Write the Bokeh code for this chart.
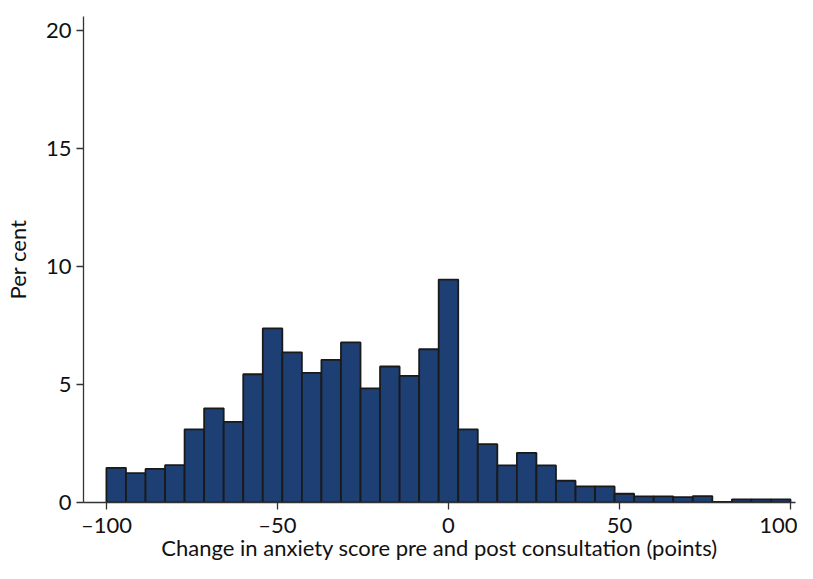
import numpy as np
from bokeh.plotting import figure
from bokeh.models import Range1d, FixedTicker, ColumnDataSource
from bokeh.embed import file_html
from bokeh.resources import INLINE

# Histogram: 35 equal-width bins from -100 to 100
bin_min = -100
bin_max = 100
n_bins = 35
percent = [1.47, 1.24, 1.42, 1.58, 3.10, 3.99, 3.41, 5.43, 7.37, 6.36,
           5.49, 6.04, 6.78, 4.83, 5.76, 5.36, 6.49, 9.44, 3.10, 2.47,
           1.57, 2.10, 1.57, 0.92, 0.68, 0.68, 0.37, 0.26, 0.26, 0.23,
           0.27, 0.03, 0.13, 0.13, 0.13]
x_ticks = [-100, -50, 0, 50, 100]
x_tick_labels = {-100: "\u2013100", -50: "\u201350", 0: "0", 50: "50", 100: "100"}
y_ticks = [0, 5, 10, 15, 20]

edges = np.linspace(bin_min, bin_max, n_bins + 1)
src = ColumnDataSource(dict(left=edges[:-1], right=edges[1:], top=percent,
                            bottom=[0] * n_bins))

FONT = "Lato"
p = figure(width=797, height=563, output_backend="svg", toolbar_location=None,
           x_range=Range1d(-106.7, 101.46), y_range=Range1d(0, 20.58),
           min_border_left=83, min_border_right=2, min_border_top=16,
           min_border_bottom=58)
p.outline_line_color = None
p.grid.grid_line_color = None
p.background_fill_color = "white"
p.border_fill_color = "white"

p.quad(left="left", right="right", top="top", bottom="bottom", source=src,
       fill_color="#1e3f73", line_color="#1a1a1a", line_width=1.8)

for ax in (p.xaxis[0], p.yaxis[0]):
    ax.axis_line_color = "#333333"
    ax.axis_line_width = 1.3
    ax.major_tick_line_color = "#333333"
    ax.major_tick_line_width = 1.3
    ax.major_tick_in = 0
    ax.major_tick_out = 7
    ax.minor_tick_line_color = None
    ax.major_label_text_font = FONT
    ax.major_label_text_font_size = "22px"
    ax.major_label_text_color = "#111111"
    ax.axis_label_text_font = FONT
    ax.axis_label_text_font_size = "22px"
    ax.axis_label_text_font_style = "normal"
    ax.axis_label_text_color = "#111111"

p.xaxis.ticker = FixedTicker(ticks=x_ticks)
p.xaxis.major_label_overrides = x_tick_labels
p.xaxis.major_label_standoff = 1
p.xaxis.axis_label = "Change in anxiety score pre and post consultation (points)"
p.xaxis.axis_label_standoff = -7

p.yaxis.ticker = FixedTicker(ticks=y_ticks)
p.yaxis.major_label_orientation = "horizontal"
p.yaxis.major_label_standoff = 5
p.yaxis.axis_label = "Per cent"
p.yaxis.axis_label_standoff = 12

open("out.html", "w").write(file_html(p, INLINE))
